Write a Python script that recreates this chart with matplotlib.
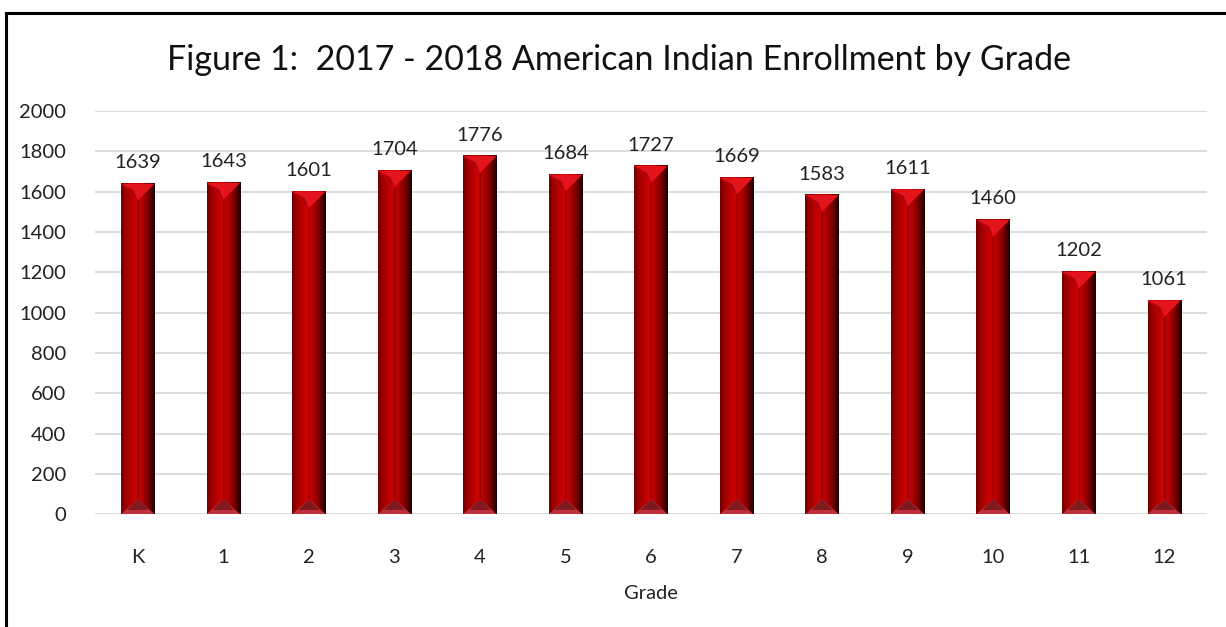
import numpy as np
import matplotlib
matplotlib.use("Agg")
import matplotlib.pyplot as plt
from matplotlib.colors import LinearSegmentedColormap
from matplotlib.patches import Polygon
from matplotlib.lines import Line2D

# chart data
grades = ["K", "1", "2", "3", "4", "5", "6", "7", "8", "9", "10", "11", "12"]
enrollment = [1639, 1643, 1601, 1704, 1776, 1684, 1727, 1669, 1583, 1611, 1460, 1202, 1061]
title = "Figure 1:  2017 - 2018 American Indian Enrollment by Grade"

plt.rcParams['font.family'] = ['Lato', 'DejaVu Sans']

fig = plt.figure(figsize=(12.26, 6.27), dpi=100)
ax = fig.add_axes([0.0775, 0.180, 0.907, 0.643])

# frame lines (top and left only, like the source image)
fig.add_artist(Line2D([6 / 1226, 1.0], [1 - 13 / 627] * 2, color="black", lw=2.2))
fig.add_artist(Line2D([6 / 1226] * 2, [0.0, 1 - 13 / 627], color="black", lw=2.2))

x = np.arange(len(grades))
bar_w = 0.39
ax.set_xlim(-0.5, len(grades) - 0.5)
ax.set_ylim(0, 2000)

# horizontal gradient: dark red -> bright red -> black
bar_cmap = LinearSegmentedColormap.from_list(
    "bevel", [(0.0, "#6e0000"), (0.12, "#9a0000"), (0.45, "#d00000"),
              (0.5, "#a00000"), (0.55, "#c80000"), (0.8, "#7a0000"), (1.0, "#1a0000")])
grad = np.linspace(0, 1, 256).reshape(1, -1)

# bevel height in data units (half the bar width in pixels)
px_per_x = ax.get_position().width * 1226 / len(grades)
px_per_y = ax.get_position().height * 627 / 2000
bevel = (bar_w / 2 * px_per_x) / px_per_y

for xi, v in zip(x, enrollment):
    l, r = xi - bar_w / 2, xi + bar_w / 2
    ax.imshow(grad, cmap=bar_cmap, aspect="auto", extent=[l, r, 0, v],
              interpolation="bicubic", zorder=3)
    ax.add_patch(Polygon([(l, v), (r, v), (xi, v - bevel)],
                         closed=True, facecolor="#e3141c", edgecolor="none", zorder=4))
    ax.add_patch(Polygon([(l, v), (xi, v - bevel), (xi - bar_w * 0.12, v - bevel * 0.4)],
                         closed=True, facecolor="#b00008", edgecolor="none", zorder=4))
    ax.add_patch(Polygon([(l, 0), (r, 0), (xi, bevel * 0.9)],
                         closed=True, facecolor="#c0303a", edgecolor="none", zorder=4))
    ax.add_patch(Polygon([(l + bar_w * 0.18, bevel * 0.25), (r - bar_w * 0.18, bevel * 0.25), (xi, bevel * 0.9)],
                         closed=True, facecolor="#801820", edgecolor="none", zorder=4))
    ax.plot([xi, xi], [bevel, v - bevel], color="#8a0000", lw=0.6, zorder=4)
    ax.text(xi, v + 62, str(v), ha="center", va="bottom", fontsize=14.5, color="#222222")

ax.set_xticks(x)
ax.set_xticklabels(grades)
ax.set_yticks(np.arange(0, 2001, 200))
ax.grid(axis="y", color="#d9d9d9", lw=1.3, zorder=0)
ax.set_axisbelow(True)
for s in ax.spines.values():
    s.set_visible(False)
ax.tick_params(axis="both", length=0, labelsize=14.5, colors="#222222")
ax.tick_params(axis="x", pad=25)
ax.tick_params(axis="y", pad=21)
ax.set_xlabel("Grade", fontsize=14.5, labelpad=14, color="#222222")

fig.text(0.505, 1 - 60 / 627, title, ha="center", va="center", fontsize=24.5, color="#111111")

fig.savefig("out.png", dpi=100)
